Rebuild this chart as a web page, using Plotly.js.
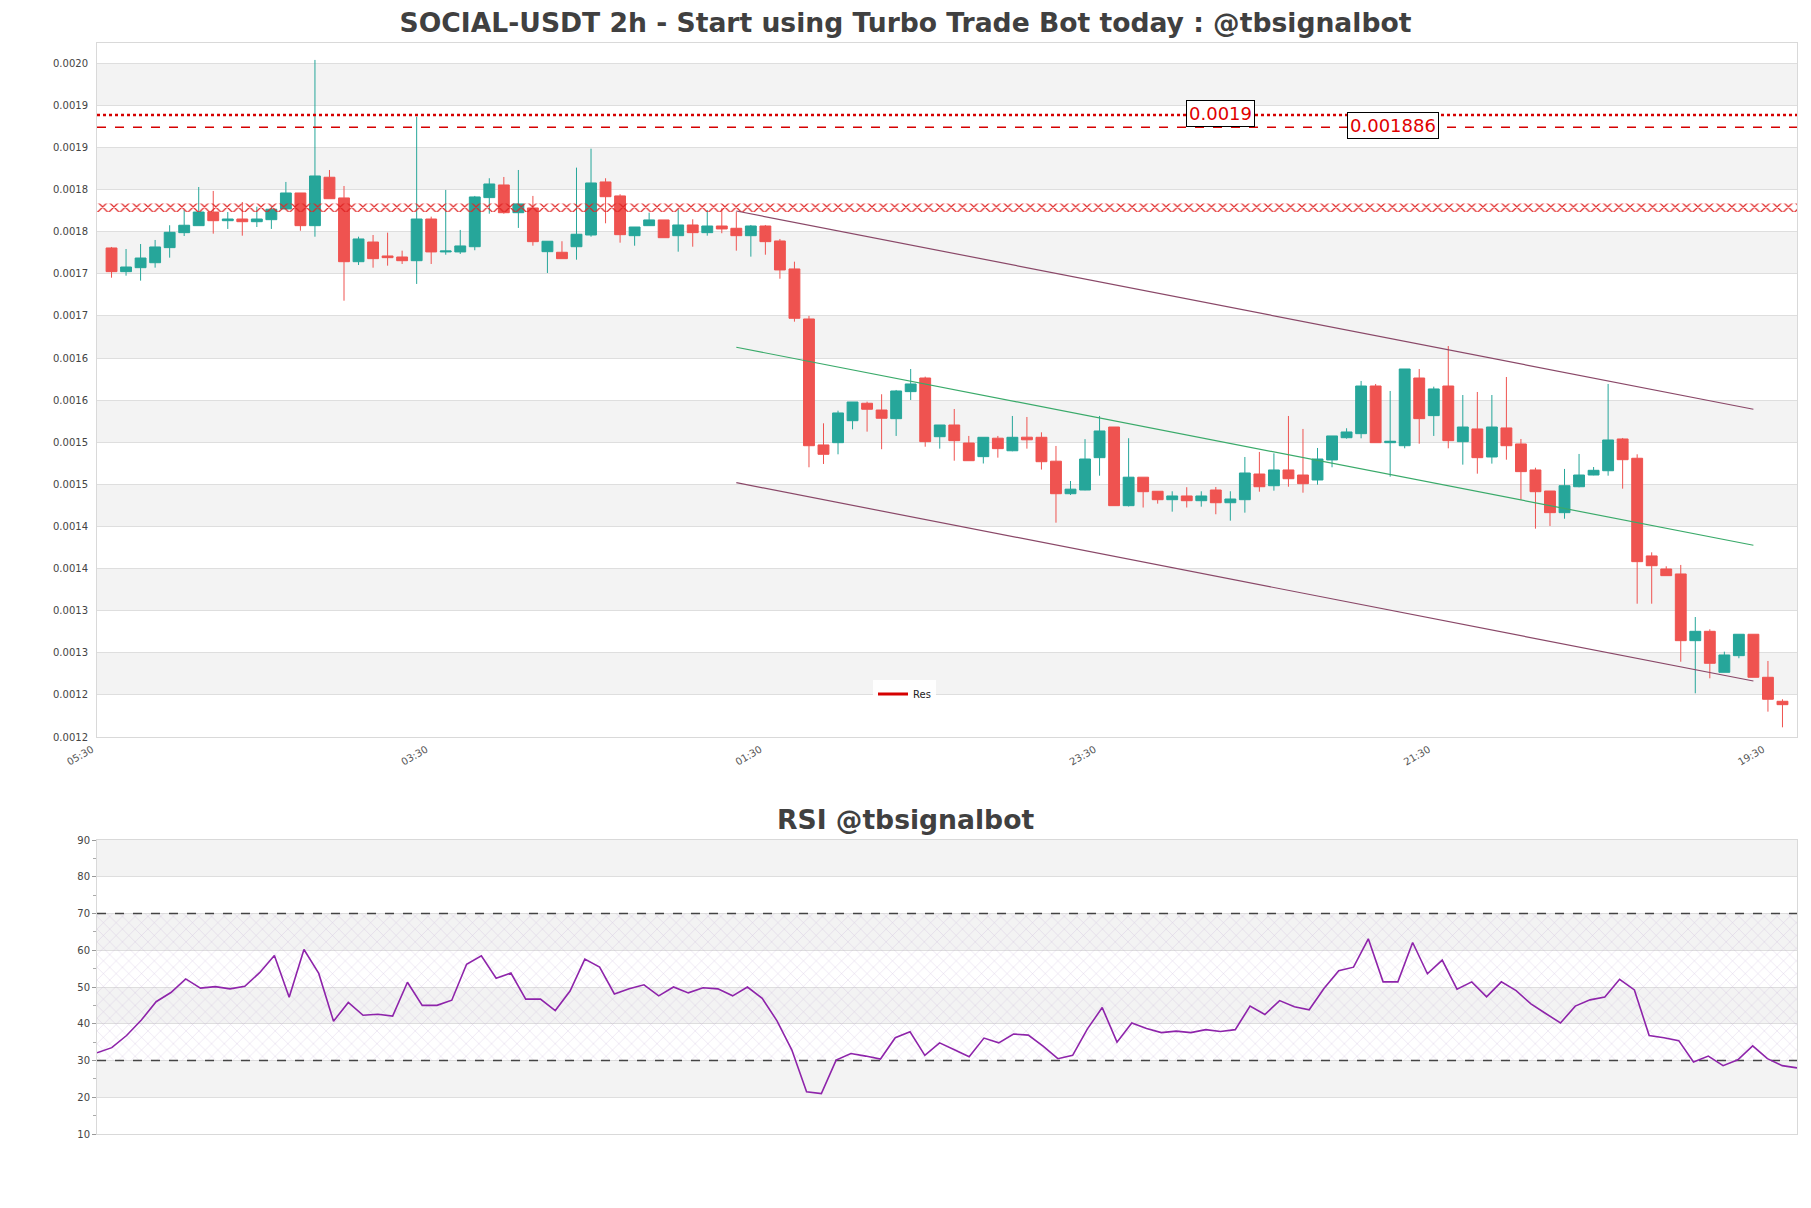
<!DOCTYPE html>
<html><head><meta charset="utf-8">
<script src="https://cdn.plot.ly/plotly-3.0.1.min.js"></script>
<style>html,body{margin:0;padding:0;background:#fff}#chart{width:1811px;height:1208px}</style>
</head><body><div id="chart"></div>
<script>
// ---- candle data (2h candles, oldest first) ----
const openP = [0.0017807,0.0017526,0.0017573,0.0017632,0.0017811,0.0017989,0.0018072,0.0018234,0.0018131,0.0018151,
0.0018119,0.0018143,0.0018270,0.0018460,0.0018072,0.0018647,0.0018401,0.0017644,0.0017878,0.0017712,
0.0017700,0.0017656,0.0018151,0.0017760,0.0017760,0.0017822,0.0018405,0.0018555,0.0018226,0.0018282,
0.0017763,0.0017756,0.0017822,0.0017961,0.0018591,0.0018425,0.0017953,0.0018072,0.0018140,0.0017953,
0.0018080,0.0017989,0.0018068,0.0018041,0.0017953,0.0018068,0.0017890,0.0017558,0.0016964,0.0015468,
0.0015495,0.0015756,0.0015963,0.0015883,0.0015780,0.0016101,0.0016263,0.0015566,0.0015705,0.0015491,
0.0015329,0.0015548,0.0015399,0.0015560,0.0015559,0.0015275,0.0014889,0.0014933,0.0015317,0.0015681,
0.0014747,0.0015085,0.0014918,0.0014818,0.0014862,0.0014806,0.0014933,0.0014782,0.0014818,0.0015123,
0.0014984,0.0015171,0.0015111,0.0015052,0.0015290,0.0015554,0.0015602,0.0016168,0.0015495,0.0015459,
0.0016263,0.0015816,0.0016168,0.0015507,0.0015658,0.0015325,0.0015670,0.0015480,0.0015171,0.0014921,
0.0014664,0.0014972,0.0015111,0.0015162,0.0015539,0.0015310,0.0014150,0.0013995,0.0013936,0.0013144,
0.0013255,0.0012768,0.0012966,0.0013220,0.0012709,0.0012424];
const highP = [0.0017819,0.0017795,0.0017854,0.0017902,0.0018077,0.0018258,0.0018531,0.0018484,0.0018234,0.0018353,
0.0018297,0.0018297,0.0018591,0.0018460,0.0020040,0.0018733,0.0018543,0.0017941,0.0017961,0.0017989,
0.0017775,0.0019366,0.0018179,0.0018496,0.0018021,0.0018425,0.0018635,0.0018650,0.0018733,0.0018425,
0.0017887,0.0017887,0.0018761,0.0018986,0.0018635,0.0018445,0.0018056,0.0018226,0.0018140,0.0018267,
0.0018148,0.0018258,0.0018278,0.0018238,0.0018080,0.0018080,0.0017914,0.0017644,0.0017000,0.0015725,
0.0015875,0.0015978,0.0015982,0.0016070,0.0016121,0.0016370,0.0016279,0.0015705,0.0015895,0.0015575,
0.0015559,0.0015575,0.0015812,0.0015800,0.0015618,0.0015456,0.0015040,0.0015537,0.0015812,0.0015681,
0.0015548,0.0015085,0.0014918,0.0014918,0.0014966,0.0014918,0.0014969,0.0014918,0.0015325,0.0015385,
0.0015369,0.0015812,0.0015658,0.0015432,0.0015575,0.0015666,0.0016228,0.0016192,0.0016109,0.0016370,
0.0016370,0.0016160,0.0016643,0.0016061,0.0016097,0.0016061,0.0016275,0.0015539,0.0015198,0.0014921,
0.0015183,0.0015361,0.0015206,0.0016192,0.0015551,0.0015357,0.0014193,0.0014027,0.0014043,0.0013425,
0.0013279,0.0013013,0.0013220,0.0013220,0.0012903,0.0012448];
const lowP = [0.0017454,0.0017478,0.0017419,0.0017573,0.0017692,0.0017949,0.0018072,0.0017977,0.0018033,0.0017953,
0.0018056,0.0018033,0.0018270,0.0018012,0.0017941,0.0018392,0.0017181,0.0017605,0.0017573,0.0017597,
0.0017617,0.0017380,0.0017617,0.0017727,0.0017736,0.0017780,0.0018214,0.0018214,0.0018045,0.0017834,
0.0017510,0.0017680,0.0017668,0.0017941,0.0018100,0.0017870,0.0017834,0.0018072,0.0017929,0.0017763,
0.0017822,0.0017953,0.0017982,0.0017775,0.0017704,0.0017727,0.0017442,0.0016932,0.0015203,0.0015242,
0.0015357,0.0015654,0.0015626,0.0015417,0.0015575,0.0016002,0.0015447,0.0015424,0.0015281,0.0015281,
0.0015248,0.0015317,0.0015393,0.0015424,0.0015176,0.0014545,0.0014874,0.0014930,0.0015103,0.0014747,
0.0014737,0.0014725,0.0014771,0.0014676,0.0014725,0.0014735,0.0014645,0.0014569,0.0014664,0.0014913,
0.0014925,0.0014972,0.0014901,0.0014996,0.0015203,0.0015542,0.0015547,0.0015495,0.0015091,0.0015428,
0.0015483,0.0015575,0.0015428,0.0015234,0.0015127,0.0015246,0.0015293,0.0014815,0.0014474,0.0014506,
0.0014592,0.0014965,0.0015108,0.0015103,0.0014949,0.0013583,0.0013583,0.0013916,0.0012894,0.0012519,
0.0012697,0.0012768,0.0012935,0.0012709,0.0012301,0.0012115];
const closeP = [0.0017526,0.0017581,0.0017688,0.0017819,0.0017993,0.0018077,0.0018234,0.0018131,0.0018151,0.0018119,
0.0018151,0.0018267,0.0018460,0.0018072,0.0018662,0.0018392,0.0017644,0.0017914,0.0017680,0.0017692,
0.0017656,0.0018151,0.0017760,0.0017771,0.0017831,0.0018413,0.0018567,0.0018226,0.0018330,0.0017882,
0.0017887,0.0017680,0.0017970,0.0018579,0.0018416,0.0017965,0.0018056,0.0018140,0.0017929,0.0018080,
0.0017989,0.0018068,0.0018033,0.0017953,0.0018068,0.0017882,0.0017546,0.0016972,0.0015459,0.0015357,
0.0015848,0.0015978,0.0015892,0.0015785,0.0016109,0.0016192,0.0015507,0.0015705,0.0015519,0.0015281,
0.0015559,0.0015424,0.0015559,0.0015529,0.0015269,0.0014889,0.0014943,0.0015301,0.0015634,0.0014747,
0.0015085,0.0014913,0.0014818,0.0014862,0.0014806,0.0014862,0.0014782,0.0014826,0.0015135,0.0014972,
0.0015171,0.0015067,0.0015008,0.0015301,0.0015575,0.0015622,0.0016168,0.0015495,0.0015512,0.0016370,
0.0015780,0.0016133,0.0015519,0.0015681,0.0015317,0.0015681,0.0015459,0.0015151,0.0014913,0.0014664,
0.0014984,0.0015111,0.0015167,0.0015527,0.0015293,0.0014082,0.0014034,0.0013916,0.0013144,0.0013255,
0.0012875,0.0012974,0.0013220,0.0012709,0.0012448,0.0012384];

// ---- RSI values, one per candle ----
const rsiVals = [32.1,33.5,36.8,41.0,46.0,48.5,52.2,49.7,50.1,49.5,
50.2,53.9,58.6,47.2,60.2,53.7,40.7,45.8,42.3,42.6,
42.1,51.3,45.0,45.0,46.4,56.2,58.5,52.4,53.8,46.7,
46.7,43.6,48.9,57.6,55.4,48.1,49.5,50.6,47.6,50.0,
48.4,49.8,49.5,47.6,50.0,46.9,40.8,32.9,21.5,21.0,
30.1,31.9,31.2,30.4,36.2,37.8,31.4,34.8,32.9,31.0,
36.1,34.8,37.2,36.9,33.9,30.5,31.4,38.6,44.4,35.0,
40.2,38.7,37.6,38.0,37.6,38.4,37.9,38.4,44.8,42.5,
46.3,44.6,43.8,49.6,54.4,55.4,63.1,51.4,51.4,62.1,
53.6,57.3,49.4,51.4,47.3,51.4,49.0,45.4,42.8,40.2,
44.8,46.5,47.3,52.1,49.2,36.8,36.2,35.4,29.6,31.2,
28.6,30.2,34.0,30.5,28.6,28.0];

// ---- ticks ----
const priceTickVals = [0.0012,0.00125,0.0013,0.00135,0.0014,0.00145,0.0015,0.00155,0.0016,0.00165,0.0017,0.00175,0.0018,0.00185,0.0019,0.00195,0.0020];
const priceTickText = ['0.0012','0.0012','0.0013','0.0013','0.0014','0.0014','0.0015','0.0015','0.0016','0.0016','0.0017','0.0017','0.0018','0.0018','0.0019','0.0019','0.0020'];
const timeTickIdx = [-1,22,45,68,91,114];
const timeTickText = ['05:30','03:30','01:30','23:30','21:30','19:30'];
const rsiTickVals = [10,20,30,40,50,60,70,80,90];

// ---- levels ----
const resDotted = 0.0019386, resDottedLabel = '0.0019';
const resDashed = 0.0019240, resDashedLabel = '0.001886';
const zoneTop = 0.0018335, zoneBottom = 0.0018235;
const chanIdx = [43,113];
const chanUpper = [0.0018246,0.0015892];
const chanMid = [0.0016628,0.0014277];
const chanLower = [0.0015020,0.0012665];
const rsiHigh = 70, rsiLow = 30;
const priceMax = 0.0020241;

const N = closeP.length;
const idx = closeP.map((_, i) => i);
const xMin = -1, xMax = N;

const traces = [];
traces.push({type:'scatter', mode:'lines', x:[xMin,xMax,xMax,xMin,xMin],
  y:[zoneBottom,zoneBottom,zoneTop,zoneTop,zoneBottom], fill:'toself',
  fillcolor:'rgba(0,0,0,0)', line:{width:0,color:'rgba(0,0,0,0)'},
  fillpattern:{shape:'x', fgcolor:'#e02424', bgcolor:'rgba(0,0,0,0)', size:8, solidity:0.28},
  showlegend:false, hoverinfo:'skip', xaxis:'x', yaxis:'y'});
traces.push({type:'scatter', mode:'lines', x:[xMin,xMax], y:[resDotted,resDotted],
  line:{color:'#d50000', width:2.5, dash:'dot'}, showlegend:false, hoverinfo:'skip', xaxis:'x', yaxis:'y'});
traces.push({type:'scatter', mode:'lines', x:[xMin,xMax], y:[resDashed,resDashed], name:'Res',
  line:{color:'#d50000', width:1.5, dash:'dash'}, showlegend:false, hoverinfo:'skip', xaxis:'x', yaxis:'y'});
traces.push({type:'scatter', mode:'lines', x:chanIdx, y:chanUpper, line:{color:'#8a4868', width:1.2}, showlegend:false, xaxis:'x', yaxis:'y'});
traces.push({type:'scatter', mode:'lines', x:chanIdx, y:chanMid, line:{color:'#3aaa6a', width:1.2}, showlegend:false, xaxis:'x', yaxis:'y'});
traces.push({type:'scatter', mode:'lines', x:chanIdx, y:chanLower, line:{color:'#8a4868', width:1.2}, showlegend:false, xaxis:'x', yaxis:'y'});
traces.push({type:'candlestick', x:idx, open:openP, high:highP, low:lowP, close:closeP,
  increasing:{line:{color:'#26a69a', width:1}, fillcolor:'#26a69a'},
  decreasing:{line:{color:'#ef5350', width:1}, fillcolor:'#ef5350'},
  whiskerwidth:0, showlegend:false, xaxis:'x', yaxis:'y'});
// legend entry
traces.push({type:'scatter', mode:'lines', x:[null], y:[null], name:'Res',
  line:{color:'#d50000', width:3}, showlegend:true, xaxis:'x', yaxis:'y'});

// RSI
const rIdx = rsiVals.map((_, i) => i);
traces.push({type:'scatter', mode:'lines', x:[0,N-1,N-1,0,0], y:[rsiLow,rsiLow,rsiHigh,rsiHigh,rsiLow], fill:'toself',
  fillcolor:'rgba(0,0,0,0)', line:{width:0,color:'rgba(0,0,0,0)'},
  fillpattern:{shape:'x', fgcolor:'rgba(170,140,195,0.5)', bgcolor:'rgba(0,0,0,0)', size:9, solidity:0.08},
  showlegend:false, hoverinfo:'skip', xaxis:'x2', yaxis:'y2'});
traces.push({type:'scatter', mode:'lines', x:[0,N-1], y:[rsiHigh,rsiHigh], line:{color:'#444', width:1.3, dash:'dash'}, showlegend:false, xaxis:'x2', yaxis:'y2'});
traces.push({type:'scatter', mode:'lines', x:[0,N-1], y:[rsiLow,rsiLow], line:{color:'#444', width:1.3, dash:'dash'}, showlegend:false, xaxis:'x2', yaxis:'y2'});
traces.push({type:'scatter', mode:'lines', x:rIdx, y:rsiVals, line:{color:'#8e24aa', width:1.6}, showlegend:false, xaxis:'x2', yaxis:'y2'});

// bands
const shapes = [];
for (let i = 1; i + 1 < priceTickVals.length; i += 2) {
  shapes.push({type:'rect', xref:'x domain', yref:'y', x0:0, x1:1, y0:priceTickVals[i], y1:priceTickVals[i+1],
    fillcolor:'#f3f3f3', line:{width:0}, layer:'below'});
}
for (let i = 1; i + 1 < rsiTickVals.length; i += 2) {
  shapes.push({type:'rect', xref:'x2 domain', yref:'y2', x0:0, x1:1, y0:rsiTickVals[i], y1:rsiTickVals[i+1],
    fillcolor:'#f3f3f3', line:{width:0}, layer:'below'});
}

const H = 1208, mt = 43, mb = 74;
const ph = H - mt - mb;
const dom = (top, bot) => [(H - mb - bot) / ph, (H - mb - top) / ph];

const layout = {
  width:1811, height:1208,
  margin:{l:97, r:14, t:mt, b:mb},
  paper_bgcolor:'#fff', plot_bgcolor:'#fff',
  font:{family:'DejaVu Sans, sans-serif', color:'#444', size:10},
  title:{text:'<b>SOCIAL-USDT 2h - Start using Turbo Trade Bot today : @tbsignalbot</b>',
    font:{size:26.6, color:'#404040', family:'DejaVu Sans'}, x:0.5, xref:'container', xanchor:'center',
    y:1 - 23/1208, yref:'container', yanchor:'middle'},
  boxgap:0.15, boxgroupgap:0.12,
  showlegend:true,
  legend:{x:0.475, y:(H - mb - 694)/ph, xanchor:'center', yanchor:'middle', bgcolor:'rgba(255,255,255,0.9)',
    font:{size:10, color:'#222'}, itemwidth:30},
  xaxis:{domain:[0,1], anchor:'y', range:[xMin, xMax], tickmode:'array', tickvals:timeTickIdx, ticktext:timeTickText,
    tickangle:-30, tickfont:{size:10, color:'#555'}, showgrid:false, zeroline:false, showline:true, mirror:true,
    linecolor:'#d9d9d9', rangeslider:{visible:false}, ticks:'outside', ticklen:2, tickcolor:'rgba(0,0,0,0)',
    ticklabelshift:-5},
  yaxis:{domain:dom(43,737), anchor:'x', range:[priceTickVals[0], priceMax], tickmode:'array',
    tickvals:priceTickVals, ticktext:priceTickText, tickfont:{size:10, color:'#444'}, gridcolor:'#dedede',
    zeroline:false, showline:true, mirror:true, linecolor:'#d9d9d9', ticks:'outside', ticklen:6, tickcolor:'rgba(0,0,0,0)'},
  xaxis2:{domain:[0,1], anchor:'y2', range:[0, N-1], showticklabels:false, showgrid:false, zeroline:false,
    showline:true, mirror:true, linecolor:'#d9d9d9', ticks:''},
  yaxis2:{domain:dom(840,1134), anchor:'x2', range:[rsiTickVals[0], rsiTickVals[rsiTickVals.length-1]],
    tickmode:'array', tickvals:rsiTickVals, tickfont:{size:10, color:'#444'}, gridcolor:'#dedede',
    zeroline:false, showline:true, mirror:true, linecolor:'#d9d9d9', ticks:'outside', ticklen:4, tickcolor:'#999',
    minor:{tickmode:'linear', tick0:5, dtick:10, ticks:'outside', ticklen:3, tickcolor:'#aaa', showgrid:false}},
  shapes:shapes,
  annotations:[
    {xref:'paper', yref:'paper', x:(905.5-97)/1700, y:(H - mb - 819)/ph, text:'<b>RSI @tbsignalbot</b>', showarrow:false,
     font:{size:26.6, color:'#404040', family:'DejaVu Sans'}, xanchor:'center', yanchor:'middle'},
    {xref:'x', yref:'y', x:76.3, y:resDotted, yshift:2, text:resDottedLabel, showarrow:false,
     font:{size:18, color:'#e00000', family:'DejaVu Sans'}, bgcolor:'#fff', bordercolor:'#000', borderwidth:1, borderpad:2},
    {xref:'x', yref:'y', x:88.2, y:resDashed, yshift:2, text:resDashedLabel, showarrow:false,
     font:{size:18, color:'#e00000', family:'DejaVu Sans'}, bgcolor:'#fff', bordercolor:'#000', borderwidth:1, borderpad:2}
  ]
};

Plotly.newPlot('chart', traces, layout, {displayModeBar:false, staticPlot:true});
</script>
</body></html>
